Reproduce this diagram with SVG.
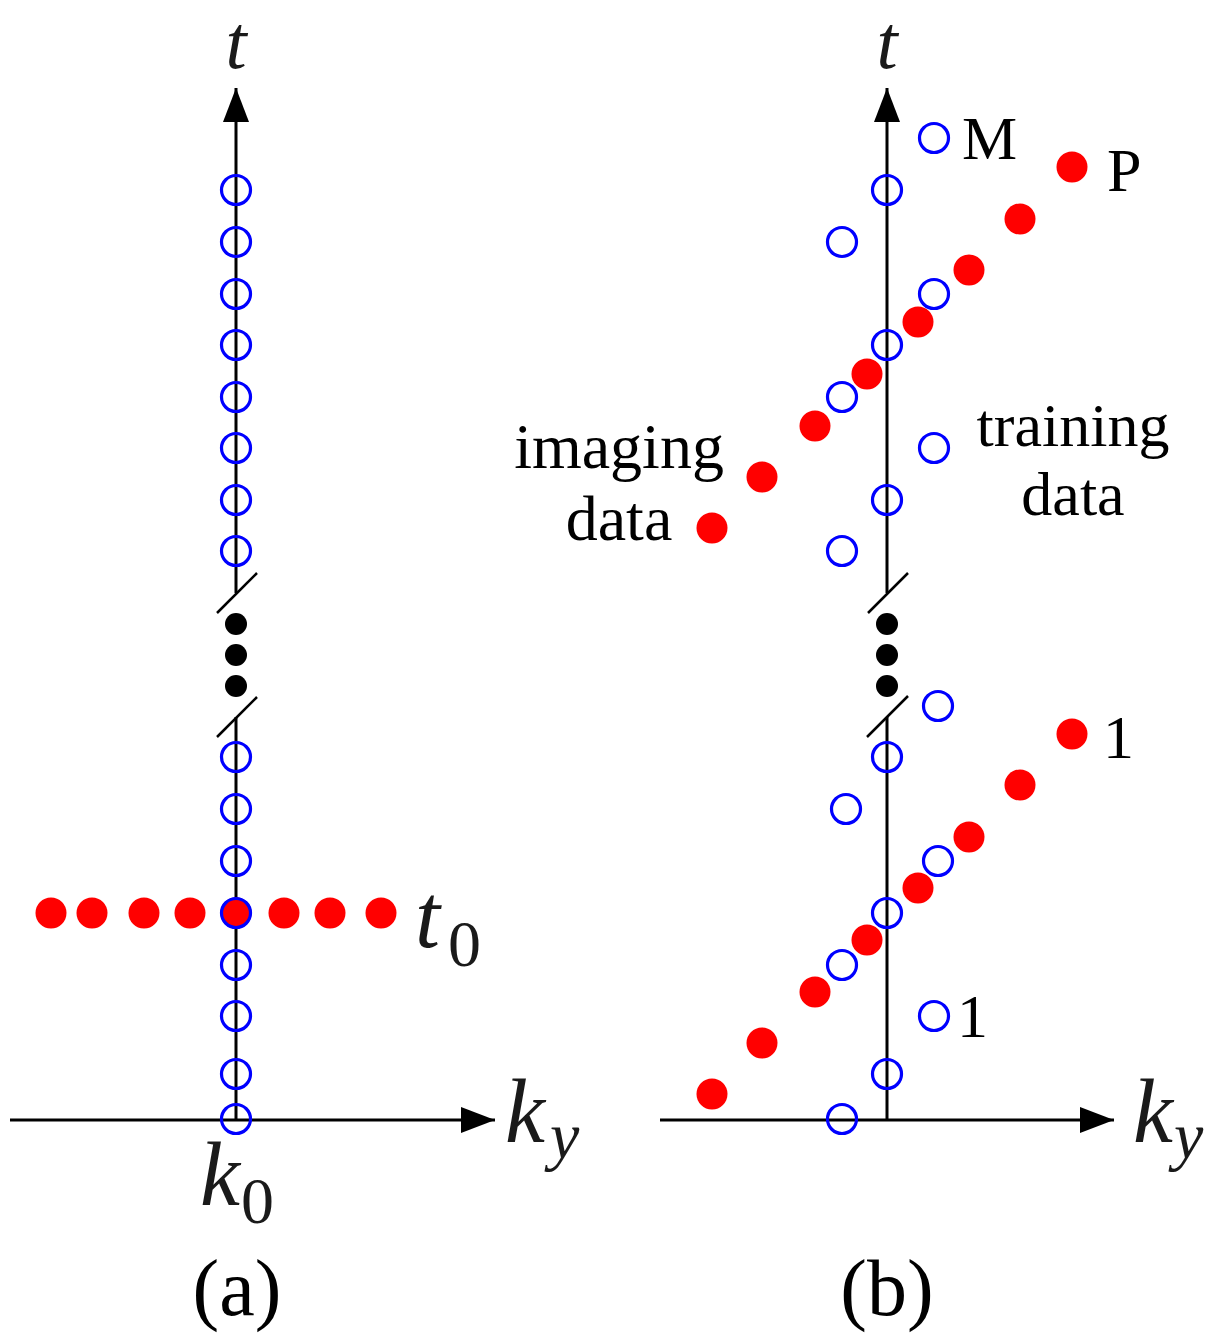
<svg xmlns="http://www.w3.org/2000/svg" width="1222" height="1337" viewBox="0 0 1222 1337">
<style>
.ax{stroke:#000;stroke-width:3;fill:none}
.brk{stroke:#000;stroke-width:2.5;fill:none}
.bc{fill:none;stroke:#0000ff;stroke-width:3.2}
.rd{fill:#ff0000}
.bd{fill:#000}
.math{font-family:"Liberation Serif","Times New Roman",serif;font-style:italic;fill:#1a1a1a}
.sub{font-family:"Liberation Serif","Times New Roman",serif;fill:#1a1a1a}
.lbl{font-family:"Liberation Serif","Times New Roman",serif;fill:#000}
</style>
<defs>
<marker id="arr" viewBox="0 0 34 26" refX="34" refY="13" markerWidth="34" markerHeight="26" markerUnits="userSpaceOnUse" orient="auto">
<path d="M0,0 L34,13 L0,26 Z" fill="#000"/>
</marker>
</defs>
<g id="connectors">
<line class="ax" x1="10" y1="1120" x2="495" y2="1120" marker-end="url(#arr)"/>
<line class="ax" x1="236" y1="1120" x2="236" y2="717"/>
<line class="ax" x1="236" y1="593" x2="236" y2="88" marker-end="url(#arr)"/>
<line class="brk" x1="217" y1="613" x2="257" y2="573"/>
<line class="brk" x1="217" y1="737" x2="257" y2="697"/>
<line class="ax" x1="660" y1="1120" x2="1114" y2="1120" marker-end="url(#arr)"/>
<line class="ax" x1="887" y1="1120" x2="887" y2="717"/>
<line class="ax" x1="887" y1="593" x2="887" y2="88" marker-end="url(#arr)"/>
<line class="brk" x1="868" y1="613" x2="908" y2="573"/>
<line class="brk" x1="867" y1="737" x2="908" y2="696"/>
</g>
<g id="panel-a-ellipsis">
<circle class="bd" cx="236" cy="624" r="11"/>
<circle class="bd" cx="236" cy="655" r="11"/>
<circle class="bd" cx="236" cy="686" r="11"/>
</g>
<g id="panel-b-ellipsis">
<circle class="bd" cx="887" cy="624" r="11"/>
<circle class="bd" cx="887" cy="655" r="11"/>
<circle class="bd" cx="887" cy="686" r="11"/>
</g>
<g id="panel-a-imaging">
<circle class="rd" cx="51" cy="913" r="15.5"/>
<circle class="rd" cx="92" cy="913" r="15.5"/>
<circle class="rd" cx="144" cy="913" r="15.5"/>
<circle class="rd" cx="190" cy="913" r="15.5"/>
<circle class="rd" cx="236" cy="913" r="15.5"/>
<circle class="rd" cx="284" cy="913" r="15.5"/>
<circle class="rd" cx="330" cy="913" r="15.5"/>
<circle class="rd" cx="381" cy="913" r="15.5"/>
</g>
<g id="panel-a-training">
<circle class="bc" cx="236" cy="190" r="14.5"/>
<circle class="bc" cx="236" cy="242" r="14.5"/>
<circle class="bc" cx="236" cy="294" r="14.5"/>
<circle class="bc" cx="236" cy="345" r="14.5"/>
<circle class="bc" cx="236" cy="397" r="14.5"/>
<circle class="bc" cx="236" cy="448" r="14.5"/>
<circle class="bc" cx="236" cy="500" r="14.5"/>
<circle class="bc" cx="236" cy="551" r="14.5"/>
<circle class="bc" cx="236" cy="757" r="14.5"/>
<circle class="bc" cx="236" cy="809" r="14.5"/>
<circle class="bc" cx="236" cy="861" r="14.5"/>
<circle class="bc" cx="236" cy="913" r="14.5"/>
<circle class="bc" cx="236" cy="965" r="14.5"/>
<circle class="bc" cx="236" cy="1016" r="14.5"/>
<circle class="bc" cx="236" cy="1074" r="14.5"/>
<circle class="bc" cx="236" cy="1119" r="14.5"/>
</g>
<g id="panel-b-imaging">
<circle class="rd" cx="712" cy="528" r="15.5"/>
<circle class="rd" cx="762" cy="477" r="15.5"/>
<circle class="rd" cx="815" cy="426" r="15.5"/>
<circle class="rd" cx="867" cy="374" r="15.5"/>
<circle class="rd" cx="918" cy="322" r="15.5"/>
<circle class="rd" cx="969" cy="270" r="15.5"/>
<circle class="rd" cx="1020" cy="219" r="15.5"/>
<circle class="rd" cx="1072" cy="167" r="15.5"/>
<circle class="rd" cx="712" cy="1094" r="15.5"/>
<circle class="rd" cx="762" cy="1043" r="15.5"/>
<circle class="rd" cx="815" cy="992" r="15.5"/>
<circle class="rd" cx="867" cy="940" r="15.5"/>
<circle class="rd" cx="918" cy="888" r="15.5"/>
<circle class="rd" cx="969" cy="837" r="15.5"/>
<circle class="rd" cx="1020" cy="785" r="15.5"/>
<circle class="rd" cx="1072" cy="734" r="15.5"/>
</g>
<g id="panel-b-training">
<circle class="bc" cx="934" cy="138" r="14.5"/>
<circle class="bc" cx="887" cy="190" r="14.5"/>
<circle class="bc" cx="842" cy="242" r="14.5"/>
<circle class="bc" cx="934" cy="294" r="14.5"/>
<circle class="bc" cx="887" cy="345" r="14.5"/>
<circle class="bc" cx="842" cy="397" r="14.5"/>
<circle class="bc" cx="934" cy="448" r="14.5"/>
<circle class="bc" cx="887" cy="500" r="14.5"/>
<circle class="bc" cx="842" cy="551" r="14.5"/>
<circle class="bc" cx="938" cy="706" r="14.5"/>
<circle class="bc" cx="887" cy="757" r="14.5"/>
<circle class="bc" cx="846" cy="809" r="14.5"/>
<circle class="bc" cx="938" cy="861" r="14.5"/>
<circle class="bc" cx="887" cy="913" r="14.5"/>
<circle class="bc" cx="842" cy="965" r="14.5"/>
<circle class="bc" cx="934" cy="1016" r="14.5"/>
<circle class="bc" cx="887" cy="1074" r="14.5"/>
<circle class="bc" cx="842" cy="1119" r="14.5"/>
</g>
<g id="labels-a">
<text class="math" x="236" y="68" font-size="76" text-anchor="middle">t</text>
<text class="math" x="415" y="947" font-size="90">t</text>
<text class="sub" x="448" y="966" font-size="66">0</text>
<text class="math" x="505" y="1142" font-size="90">k</text>
<text class="math" x="550" y="1158" font-size="66">y</text>
<text class="math" x="200" y="1205" font-size="90">k</text>
<text class="sub" x="241" y="1223" font-size="66">0</text>
<text class="lbl" x="237" y="1315" font-size="80" text-anchor="middle">(a)</text>
</g>
<g id="labels-b">
<text class="math" x="887" y="68" font-size="76" text-anchor="middle">t</text>
<text class="math" x="1133" y="1142" font-size="90">k</text>
<text class="math" x="1174" y="1158" font-size="66">y</text>
<text class="lbl" x="887" y="1315" font-size="80" text-anchor="middle">(b)</text>
<text class="lbl" x="962" y="159" font-size="62">M</text>
<text class="lbl" x="1107" y="191" font-size="62">P</text>
<text class="lbl" x="1103" y="758" font-size="62">1</text>
<text class="lbl" x="957" y="1037" font-size="62">1</text>
<text class="lbl" x="619" y="468" font-size="64" text-anchor="middle">imaging</text>
<text class="lbl" x="619" y="540" font-size="64" text-anchor="middle">data</text>
<text class="lbl" x="1073" y="446" font-size="62" text-anchor="middle">training</text>
<text class="lbl" x="1073" y="515" font-size="62" text-anchor="middle">data</text>
</g>
</svg>
